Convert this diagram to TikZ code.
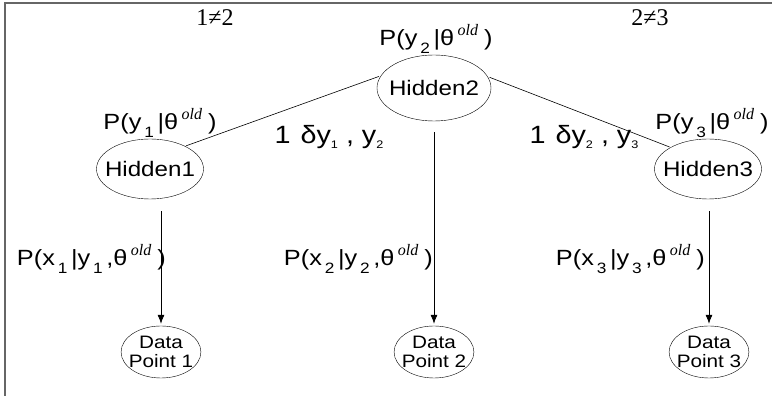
\documentclass[tikz,border=0pt]{standalone}
\usepackage{fontspec}
\setmainfont[FakeStretch=1.15]{Liberation Sans}
\newfontfamily\timesfont{Liberation Serif}
\usetikzlibrary{shapes.geometric, arrows.meta}
\newcommand{\lowsub}[1]{\hspace{3pt}\raisebox{-0.75ex}{\fontsize{15}{15}\selectfont #1}\hspace{3.5pt}}
\newcommand{\tinysub}[1]{\raisebox{-0.4ex}{\fontsize{11}{11}\selectfont #1}}
\newcommand{\oldsup}{\hspace{3.5pt}\raisebox{0.85ex}{\fontsize{16}{16}\timesfont\itshape old}\hspace{6pt}}
\tikzset{
  hidden/.style = {shape=ellipse, draw, inner xsep=-8pt, inner ysep=0pt,
                   font=\fontsize{21}{24}\selectfont},
  datapt/.style = {shape=ellipse, draw, align=center, inner xsep=-4pt, inner ysep=0pt,
                   minimum width=78pt, minimum height=52pt,
                   font=\fontsize{18}{19}\selectfont},
  prob/.style   = {inner sep=0pt, font=\fontsize{22}{23}\selectfont},
  neq/.style    = {inner sep=0pt, font=\fontsize{24}{24}\timesfont},
  kron/.style   = {inner sep=0pt, font=\fontsize{25}{26}\selectfont},
  frame/.style  = {draw=black!60, line width=1.6pt},
  link/.style   = {draw, line width=0.6pt},
  arr/.style    = {draw, line width=0.7pt, -{Latex[length=9pt, width=7pt]}}
}
\begin{document}
\begin{tikzpicture}[x=1pt, y=1pt]
  \useasboundingbox (0,0) rectangle (772,396);
  \draw[frame] (5,0) -- (5,393) -- (772,393);

  % hidden states
  \node[hidden, minimum width=114pt, minimum height=66pt] (h2) at (434,308) {Hidden2};
  \node[hidden, minimum width=107pt, minimum height=60pt] (h1) at (150,227) {Hidden1};
  \node[hidden, minimum width=107pt, minimum height=60pt] (h3) at (708,227) {Hidden3};

  % observed data
  \node[datapt] (d1) at (161,44) {Data\\Point 1};
  \node[datapt] (d2) at (434,44) {Data\\Point 2};
  \node[datapt] (d3) at (709,44) {Data\\Point 3};

  % labels
  \node[neq] (n12) at (215,378) {1≠2};
  \node[neq] (n23) at (650,378) {2≠3};
  \node[prob] (py2) at (436,357) {P(y\lowsub{2}|θ\oldsup)};
  \node[prob] (py1) at (160,273) {P(y\lowsub{1}|θ\oldsup)};
  \node[prob] (py3) at (712,273) {P(y\lowsub{3}|θ\oldsup)};
  \node[kron] (k12) at (329,259) {1\hspace{10pt}δy\tinysub{1} , y\tinysub{2}};
  \node[kron] (k23) at (584,259) {1\hspace{10pt}δy\tinysub{2} , y\tinysub{3}};
  \node[prob, anchor=east] (px1) at (166,137) {P(x\lowsub{1}|y\lowsub{1},θ\oldsup)};
  \node[prob, anchor=east] (px2) at (433,137) {P(x\lowsub{2}|y\lowsub{2},θ\oldsup)};
  \node[prob, anchor=east] (px3) at (705,137) {P(x\lowsub{3}|y\lowsub{3},θ\oldsup)};

  % connectors
  \draw[link, shorten <=2pt, shorten >=1pt] (h2.167) -- (h1.33);
  \draw[link, shorten <=2pt, shorten >=1pt] (h2.12) -- (h3.150);
  \draw[arr, shorten <=12pt, shorten >=2pt] (h1.south -| d1) -- (d1.north);
  \draw[arr, shorten <=11pt, shorten >=2pt] (h2.south) -- (d2.north);
  \draw[arr, shorten <=12pt, shorten >=2pt] (h3.south -| d3) -- (d3.north);
\end{tikzpicture}
\end{document}
